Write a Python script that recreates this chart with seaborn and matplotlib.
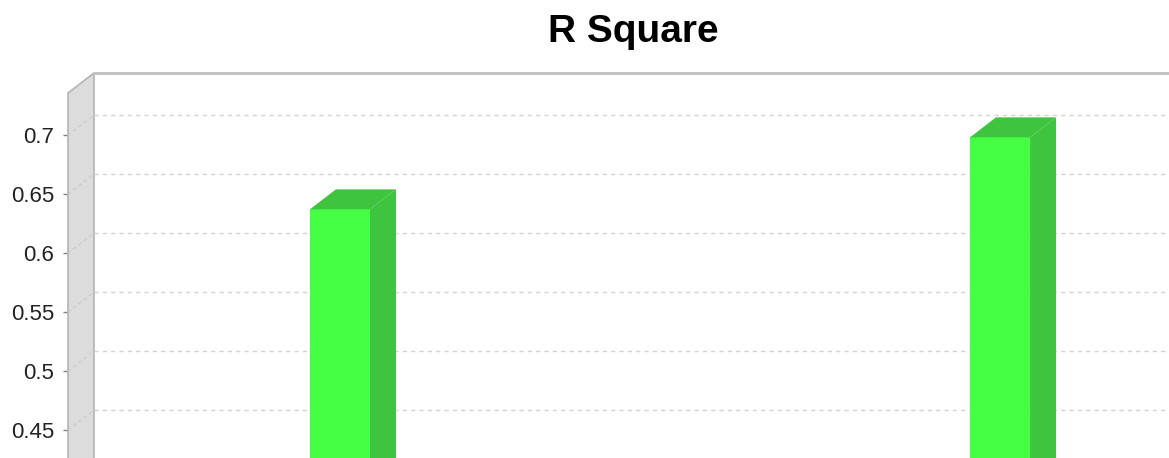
import numpy as np
import matplotlib
matplotlib.use("Agg")
from matplotlib import pyplot as plt
from matplotlib.patches import Polygon
import seaborn as sns

# data
models = ["Model 1", "Model 2"]
r_square = [0.637, 0.698]
y_ticks = [0.45, 0.5, 0.55, 0.6, 0.65, 0.7]
y_tick_labels = ["0.45", "0.5", "0.55", "0.6", "0.65", "0.7"]

FRONT = "#44ff44"
SHADE = "#3ec43e"
DX, DY = 26, 20   # depth offset in pixels

sns.set_style("white")
plt.rcParams["font.family"] = ["Liberation Sans", "DejaVu Sans"]

W, H = 1169, 458
fig = plt.figure(figsize=(W / 100, H / 100), dpi=100)
# front plane of the plot, in pixels: left 68, top 93, bottom beyond the crop
ax = fig.add_axes([68 / W, 0, (W - 68) / W, (H - 93) / H])

sns.barplot(x=models, y=r_square, width=0.091, color=FRONT, saturation=1,
            ax=ax, zorder=3, linewidth=0)
ax.set_xlim(-0.412, 1.256)
ax.set_ylim(0.4263, 0.7356)

def back(x, y):
    p = ax.transData.transform((x, y)) + np.array([DX, DY])
    return ax.transData.inverted().transform(p)

bars = list(ax.patches)
xl, xr = ax.get_xlim()
yb, yt = ax.get_ylim()
ybot = yb - 0.05

# left wall
wall = Polygon([(xl, ybot), (xl, yt), back(xl, yt), back(xl, ybot)],
               closed=True, facecolor="#dcdcdc", edgecolor="#b4b4b4",
               linewidth=1.2, clip_on=False, zorder=1)
ax.add_patch(wall)

# grid on back plane and on the wall
for v in y_ticks:
    b0 = back(xl, v)
    b1 = back(xr + 0.2, v)
    ax.plot([b0[0], b1[0]], [b0[1], b1[1]], color="#d2d2d2", lw=1,
            ls=(0, (3, 3)), clip_on=False, zorder=2)
    ax.plot([xl, b0[0]], [v, b0[1]], color="#c8c8c8", lw=0.8,
            ls=(0, (3, 3)), clip_on=False, zorder=2)

# top border of the back plane
t0 = back(xl, yt)
t1 = back(xr + 0.2, yt)
ax.plot([t0[0], t1[0]], [t0[1], t1[1]], color="#c0c0c0", lw=2,
        clip_on=False, zorder=2)

# 3d top and side of each bar
for bar in bars:
    x0 = bar.get_x()
    x1 = x0 + bar.get_width()
    h = bar.get_y() + bar.get_height()
    top = Polygon([(x0, h), (x1, h), back(x1, h), back(x0, h)],
                  closed=True, facecolor=SHADE, edgecolor="none",
                  clip_on=False, zorder=4)
    side = Polygon([(x1, ybot), (x1, h), back(x1, h), back(x1, ybot)],
                   closed=True, facecolor=SHADE, edgecolor="none",
                   clip_on=False, zorder=4)
    ax.add_patch(top)
    ax.add_patch(side)

ax.set_yticks(y_ticks)
ax.set_yticklabels(y_tick_labels)
ax.tick_params(axis="y", left=True, length=3.6, width=1, color="#808080",
               pad=6.5, labelsize=16, labelcolor="#222222")
ax.tick_params(axis="x", bottom=False, labelbottom=False)
ax.set_xlabel("")
ax.set_ylabel("")
for s in ax.spines.values():
    s.set_visible(False)
ax.patch.set_alpha(0)

fig.text(633 / W, 1 - 32 / H, "R Square", ha="center", va="center",
         fontsize=28, fontweight="bold", color="black")

fig.savefig("out.png", dpi=100)
